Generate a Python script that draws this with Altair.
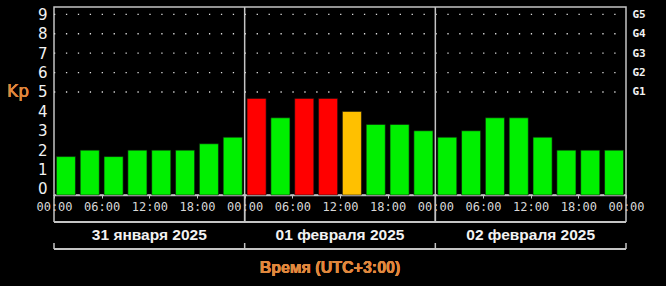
import altair as alt
import pandas as pd

# ---- data ----
bar_start_hours = [0, 3, 6, 9, 12, 15, 18, 21,
                   24, 27, 30, 33, 36, 39, 42, 45,
                   48, 51, 54, 57, 60, 63, 66, 69]
kp_values = [1.67, 2.0, 1.67, 2.0, 2.0, 2.0, 2.33, 2.67,
             4.67, 3.67, 4.67, 4.67, 4.0, 3.33, 3.33, 3.0,
             2.67, 3.0, 3.67, 3.67, 2.67, 2.0, 2.0, 2.0]
day_labels = ["31 января 2025", "01 февраля 2025", "02 февраля 2025"]
day_centers = [12, 36, 60]
day_bounds = [0, 24, 48, 72]
g_levels = [5, 6, 7, 8, 9]
g_labels = ["G1", "G2", "G3", "G4", "G5"]
x_title = "Время (UTC+3:00)"
y_title = "Kp"


def level(k):
    if k >= 4.5:
        return "red"
    if k >= 4.0:
        return "orange"
    return "green"


bars = pd.DataFrame({
    "x0": [h + 0.3 for h in bar_start_hours],
    "x1": [h + 2.7 for h in bar_start_hours],
    "kp": kp_values,
    "lvl": [level(k) for k in kp_values],
})
days = pd.DataFrame({"x": day_centers, "label": day_labels})
bounds = pd.DataFrame({"x": day_bounds})
inner = pd.DataFrame({"x": day_bounds[1:-1]})
grid = pd.DataFrame({"g": g_levels})

W, H = 572, 188
ydom = [-0.31, 9.38]
xscale = alt.Scale(domain=[0, 72], nice=False, zero=False)
yscale = alt.Scale(domain=ydom, nice=False, zero=False)
frame_col = "#c4c4c4"
orange_txt = "#e0883e"

x_axis = alt.Axis(
    values=list(range(0, 73, 3)),
    labelExpr="datum.value % 6 ? '' : ((datum.value % 24 < 10 ? '0' : '') + (datum.value % 24) + ':00')",
    tickSize=3, tickColor=frame_col, domainColor=frame_col, domainWidth=1.5,
    labelFont="DejaVu Sans Mono", labelFontSize=12, labelColor="#d8d8d8",
    labelPadding=3, labelOverlap=False, labelFlush=False, grid=False, title="",
)

bar_layer = alt.Chart(bars).mark_bar(stroke="#101010", strokeWidth=0.6).encode(
    x=alt.X("x0:Q", scale=xscale, axis=x_axis),
    x2="x1:Q",
    y=alt.Y("kp:Q", scale=yscale, axis=alt.Axis(
        values=list(range(10)), orient="left", ticks=False, domain=False, grid=False,
        labelFont="DejaVu Sans", labelFontSize=15, labelColor="#f2f2f2",
        labelPadding=7, labelOverlap=False, title="")),
    y2=alt.value(H),
    color=alt.Color("lvl:N", legend=None, scale=alt.Scale(
        domain=["green", "orange", "red"], range=["#00f000", "#ffc000", "#ff0000"])),
)

grid_layer = alt.Chart(grid).mark_rule(
    color="#dddddd", strokeWidth=1.3, strokeDash=[1.3, 10.62]
).encode(
    x=alt.datum(0, scale=xscale),
    x2=alt.datum(72),
    y=alt.Y("g:Q", scale=yscale, axis=alt.Axis(
        values=g_levels, orient="right", ticks=False, domain=False, grid=False,
        labelExpr="'G' + (datum.value - 4)",
        labelFont="DejaVu Sans Mono", labelFontWeight="bold", labelFontSize=11,
        labelColor="#f2f2f2", labelPadding=6, labelOverlap=False, title="")),
)

inner_lines = alt.Chart(inner).mark_rule(color=frame_col, strokeWidth=1.5).encode(
    x=alt.X("x:Q", scale=xscale), y=alt.value(0), y2=alt.value(215))

edge_lines = alt.Chart(bounds).mark_rule(color=frame_col, strokeWidth=1.5).encode(
    x=alt.X("x:Q", scale=xscale), y=alt.value(H), y2=alt.value(215))

bracket1 = alt.Chart(bounds).mark_rule(color=frame_col, strokeWidth=1.5).encode(
    x=alt.datum(0, scale=xscale), x2=alt.datum(72), y=alt.value(215))

bracket2_h = alt.Chart(bounds).mark_rule(color=frame_col, strokeWidth=1.5).encode(
    x=alt.datum(0, scale=xscale), x2=alt.datum(72), y=alt.value(242))

bracket2_v = alt.Chart(bounds).mark_rule(color=frame_col, strokeWidth=1.5).encode(
    x=alt.X("x:Q", scale=xscale), y=alt.value(236), y2=alt.value(242))

day_text = alt.Chart(days).mark_text(
    font="Liberation Sans", fontWeight="bold", fontSize=15.5, color="#f2f2f2",
    baseline="middle", align="center"
).encode(x=alt.X("x:Q", scale=xscale), y=alt.value(228), text="label:N")

title_text = alt.Chart(bounds).mark_text(
    font="Liberation Sans", fontWeight="bold", fontSize=16, color=orange_txt,
    baseline="middle", align="center", text=x_title
).encode(x=alt.value(276), y=alt.value(261))

kp_text = alt.Chart(bounds).mark_text(
    font="DejaVu Sans", fontSize=17, color=orange_txt,
    baseline="middle", align="center", text=y_title
).encode(x=alt.value(-36), y=alt.YDatum(5, scale=yscale, axis=None))

chart = alt.layer(
    grid_layer, bar_layer, inner_lines, edge_lines, bracket1, bracket2_h, bracket2_v,
    day_text, title_text, kp_text
).resolve_axis(y="independent").properties(
    width=W, height=H,
    autosize=alt.AutoSizeParams(type="none"),
    padding={"left": 54, "top": 7, "right": 40, "bottom": 91},
    background="#000000",
).configure_view(stroke=frame_col, strokeWidth=1.5, fill="#000000")

chart.save("out.html", embed_options={"renderer": "svg", "actions": False})
